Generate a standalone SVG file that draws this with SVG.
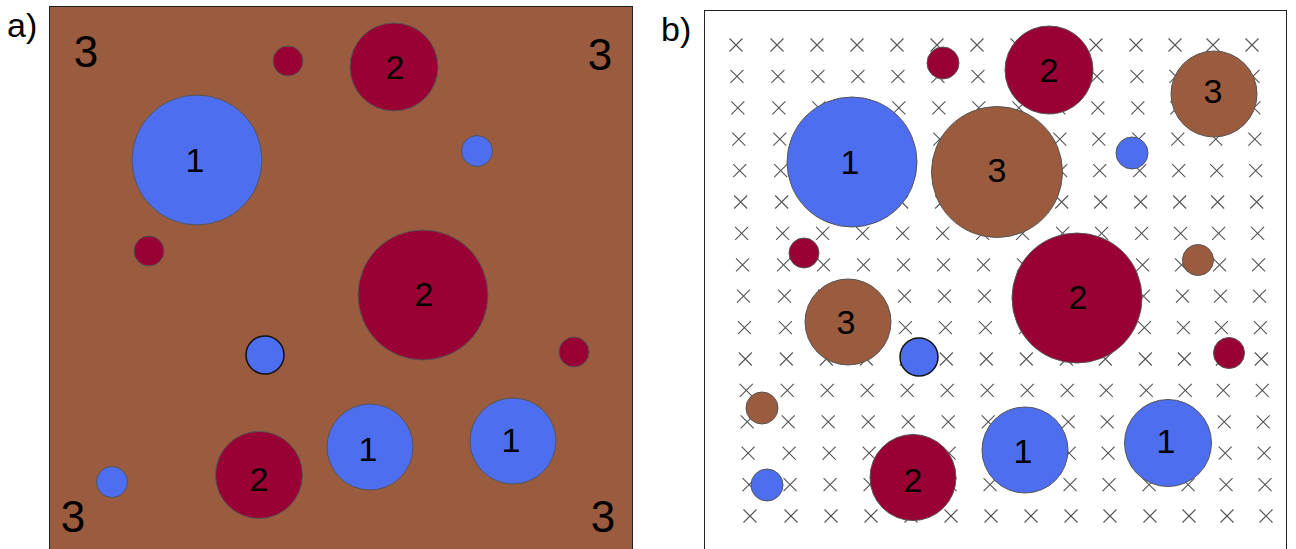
<svg xmlns="http://www.w3.org/2000/svg" xmlns:xlink="http://www.w3.org/1999/xlink" width="1296" height="549" viewBox="0 0 1296 549">
<style>
  .lbl{font-family:"Liberation Sans",Arial,sans-serif;font-size:34px;fill:#000;text-anchor:middle}
  .corner{font-family:"Liberation Sans",Arial,sans-serif;font-size:44px;fill:#000;text-anchor:middle}
  .panel{font-family:"Liberation Sans",Arial,sans-serif;font-size:34px;fill:#000}
  .blue{fill:#4E6EF0;stroke:#555;stroke-width:1}
  .red{fill:#990033;stroke:#555;stroke-width:1}
  .brown{fill:#9A5B3E;stroke:#555;stroke-width:1}
  .blk{stroke:#111;stroke-width:1.5}
  .xm{stroke:#555;stroke-width:1.1;fill:none}
</style>
<defs>
  <path id="x" class="xm" d="M-6.5,-6.5L6.5,6.5M6.5,-6.5L-6.5,6.5"/>
  <g id="row">
    <use href="#x" x="736" y="0"/><use href="#x" x="777" y="0"/><use href="#x" x="817" y="0"/><use href="#x" x="857" y="0"/>
    <use href="#x" x="897" y="0"/><use href="#x" x="937" y="0"/><use href="#x" x="977" y="0"/><use href="#x" x="1017" y="0"/>
    <use href="#x" x="1057" y="0"/><use href="#x" x="1096" y="0"/><use href="#x" x="1136" y="0"/><use href="#x" x="1175" y="0"/>
    <use href="#x" x="1213" y="0"/><use href="#x" x="1252" y="0"/>
  </g>
</defs>
<rect width="1296" height="549" fill="#fff"/>

<!-- Panel a -->
<g id="panel-a">
  <text class="panel" x="7" y="37">a)</text>
  <rect id="a-background" x="49.5" y="6.5" width="583" height="560" fill="#9A5B3E" stroke="#222" stroke-width="1"/>
  <g id="a-corner-labels">
    <text class="corner" x="86" y="67">3</text>
    <text class="corner" x="600" y="70">3</text>
    <text class="corner" x="73" y="532">3</text>
    <text class="corner" x="603" y="532">3</text>
  </g>
  <g id="a-c1"><circle class="red" cx="288" cy="61" r="15"/></g>
  <g id="a-c2"><circle class="red" cx="394" cy="67" r="44"/><text class="lbl" x="395" y="79">2</text></g>
  <g id="a-c3"><circle class="blue" cx="197" cy="160" r="65"/><text class="lbl" x="195" y="172">1</text></g>
  <g id="a-c4"><circle class="blue" cx="477" cy="151" r="15.5"/></g>
  <g id="a-c5"><circle class="red" cx="149" cy="251" r="15"/></g>
  <g id="a-c6"><circle class="red" cx="423" cy="295" r="65"/><text class="lbl" x="424" y="306">2</text></g>
  <g id="a-c7"><circle class="blue blk" cx="265" cy="355" r="19"/></g>
  <g id="a-c8"><circle class="red" cx="574" cy="352" r="15"/></g>
  <g id="a-c9"><circle class="blue" cx="370" cy="447" r="43"/><text class="lbl" x="368" y="461">1</text></g>
  <g id="a-c10"><circle class="blue" cx="513" cy="441" r="43"/><text class="lbl" x="511" y="452">1</text></g>
  <g id="a-c11"><circle class="red" cx="259" cy="475" r="43.5"/><text class="lbl" x="259" y="491">2</text></g>
  <g id="a-c12"><circle class="blue" cx="112" cy="482" r="15.5"/></g>
</g>

<!-- Panel b -->
<g id="panel-b">
  <text class="panel" x="661" y="41">b)</text>
  <rect id="b-background" x="704.5" y="10.5" width="582" height="560" fill="#fff" stroke="#222" stroke-width="1"/>
  <g id="b-grid">
    <use href="#row" x="0" y="45"/>
    <use href="#row" x="0.93" y="76.4"/>
    <use href="#row" x="1.87" y="107.8"/>
    <use href="#row" x="2.8" y="139.2"/>
    <use href="#row" x="3.73" y="170.6"/>
    <use href="#row" x="4.67" y="202"/>
    <use href="#row" x="5.6" y="233.4"/>
    <use href="#row" x="6.53" y="264.8"/>
    <use href="#row" x="7.47" y="296.2"/>
    <use href="#row" x="8.4" y="327.6"/>
    <use href="#row" x="9.33" y="359"/>
    <use href="#row" x="10.27" y="390.4"/>
    <use href="#row" x="11.2" y="421.8"/>
    <use href="#row" x="12.13" y="453.2"/>
    <use href="#row" x="13.07" y="484.6"/>
    <use href="#row" x="14" y="516"/>
  </g>
  <g id="b-c1"><circle class="red" cx="943" cy="63" r="16"/></g>
  <g id="b-c2"><circle class="red" cx="1049" cy="70" r="44"/><text class="lbl" x="1049" y="82">2</text></g>
  <g id="b-c3"><circle class="brown" cx="1214" cy="94" r="43"/><text class="lbl" x="1213" y="103">3</text></g>
  <g id="b-c4"><circle class="blue" cx="852" cy="162" r="65"/><text class="lbl" x="850" y="174">1</text></g>
  <g id="b-c5"><circle class="brown" cx="997" cy="172" r="65.5"/><text class="lbl" x="997" y="182">3</text></g>
  <g id="b-c6"><circle class="blue" cx="1132" cy="153" r="16"/></g>
  <g id="b-c7"><circle class="red" cx="804" cy="253" r="15"/></g>
  <g id="b-c8"><circle class="red" cx="1077" cy="298" r="65"/><text class="lbl" x="1078" y="309">2</text></g>
  <g id="b-c9"><circle class="brown" cx="1198" cy="260" r="15.5"/></g>
  <g id="b-c10"><circle class="brown" cx="848" cy="322" r="43"/><text class="lbl" x="846" y="334">3</text></g>
  <g id="b-c11"><circle class="blue blk" cx="919" cy="357" r="19"/></g>
  <g id="b-c12"><circle class="red" cx="1229" cy="353" r="15.5"/></g>
  <g id="b-c13"><circle class="brown" cx="762" cy="408" r="16"/></g>
  <g id="b-c14"><circle class="blue" cx="1025" cy="450" r="43"/><text class="lbl" x="1023" y="463">1</text></g>
  <g id="b-c15"><circle class="blue" cx="1168" cy="443" r="43.5"/><text class="lbl" x="1166" y="453">1</text></g>
  <g id="b-c16"><circle class="red" cx="913" cy="477.5" r="43"/><text class="lbl" x="913" y="492">2</text></g>
  <g id="b-c17"><circle class="blue" cx="767" cy="485" r="16"/></g>
</g>
</svg>
